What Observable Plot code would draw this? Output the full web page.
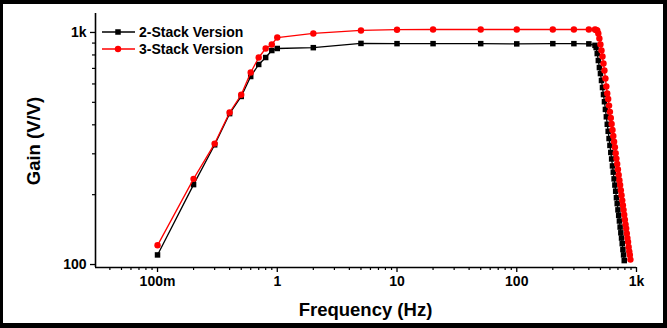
<!DOCTYPE html>
<html><head><meta charset="utf-8">
<script src="https://cdn.jsdelivr.net/npm/d3@7"></script>
<script src="https://cdn.jsdelivr.net/npm/@observablehq/plot@0.6"></script>
<style>
html,body{margin:0;padding:0;background:#fff;}
#wrap{position:relative;width:667px;height:328px;overflow:hidden;font-family:"Liberation Sans",Arial,sans-serif;}
#border{position:absolute;left:0;top:0;width:667px;height:328px;box-sizing:border-box;border-style:solid;border-color:#000;border-width:4px 4px 5px 3px;pointer-events:none;}
#chart{position:absolute;left:0;top:0;}
#chart svg text{font-weight:bold;fill:#000;}
</style></head><body>
<div id="wrap"><div id="chart"></div><div id="border"></div></div>
<script>
// ---- data ----
const seriesNames = ["2-Stack Version", "3-Stack Version"];
const seriesColors = ["#000000", "#ff0000"];

const freq2 = [0.1,0.2,0.3,0.4,0.5,0.6,0.7,0.8,0.9,1,2,5,10,20,50,100,200,300,400,450,
  460,470,480,490,500,510,520,530,540,550,560,570,580,590,600,610,620,630,640,650,
  660,670,680,690,700,710,720,730,740,750,760,770,780,790];
const gain2 = [110,221,328,447,530,646,728,780,836,853,860,897,895,895,895,893,895,895,893,880,
  861,811,757,706,665,621,579,540,503,466,433,402,375,349,326,304,285,266,250,234,
  220,207,194,183,172,163,154,145,137,130,123,116,110,104];

const freq3 = [0.1,0.2,0.3,0.4,0.5,0.6,0.7,0.8,0.9,1,2,5,10,20,50,100,200,300,400,450,
  460,470,480,490,500,510,520,530,540,550,560,570,580,590,600,610,620,630,640,650,
  660,670,680,690,700,710,720,730,740,750,760,770,780,790,800,810,820,830,840,850,
  860,870,880,890];
const gain3 = [121,234,332,452,539,672,780,853,888,951,990,1020,1028,1030,1030,1030,1030,1030,1030,1030,
  1025,1020,990,942,888,836,788,735,686,634,585,546,517,484,455,428,403,380,358,338,
  320,302,286,271,257,243,231,220,209,199,189,180,172,164,156,149,143,136,130,125,
  119,114,110,105];

const xTickValues = [0.1, 1, 10, 100, 1000];
const xTickLabels = ["100m", "1", "10", "100", "1k"];
const yTickValues = [100, 1000];
const yTickLabels = ["100", "1k"];
const xDomain = [0.03034, 1000];
const yDomain = [97.1, 1207];

// minor ticks
const mult = [2,3,4,5,6,7,8,9];
const xMinor = [0.04,0.05,0.06,0.07,0.08,0.09];
[0.1,1,10,100].forEach(d => mult.forEach(m => xMinor.push(d*m)));
const yMinor = mult.map(m => m*100);

const data2 = freq2.map((f,i) => ({f, g: gain2[i]}));
const data3 = freq3.map((f,i) => ({f, g: gain3[i]}));

const xFmt = d => xTickLabels[xTickValues.indexOf(d)];
const yFmt = d => yTickLabels[yTickValues.indexOf(d)];

const chart = Plot.plot({
  width: 667, height: 328,
  marginLeft: 95, marginRight: 31, marginTop: 13, marginBottom: 61,
  style: {fontFamily: "Liberation Sans, Arial, sans-serif", background: "transparent", overflow: "visible"},
  x: {type: "log", domain: xDomain},
  y: {type: "log", domain: yDomain},
  marks: [
    Plot.axisX({ticks: xMinor, tickSize: 3, tickFormat: () => "", label: null, stroke: "#000", strokeWidth: 1.2}),
    Plot.axisX({ticks: xTickValues, tickSize: 5, tickPadding: 4, tickFormat: xFmt, label: null, fontSize: 14, stroke: "#000", strokeWidth: 1.3}),
    Plot.axisY({ticks: yMinor, tickSize: 3, tickFormat: () => "", label: null, stroke: "#000", strokeWidth: 1.2}),
    Plot.axisY({ticks: yTickValues, tickSize: 5, tickPadding: 4, tickFormat: yFmt, label: null, fontSize: 14, stroke: "#000", strokeWidth: 1.3}),
    Plot.ruleY([yDomain[0]], {stroke: "#000", strokeWidth: 1.6}),
    Plot.ruleX([xDomain[0]], {stroke: "#000", strokeWidth: 1.6}),
    Plot.line(data2, {x: "f", y: "g", stroke: seriesColors[0], strokeWidth: 1.3}),
    Plot.dot(data2, {x: "f", y: "g", symbol: "square", r: 3.1, fill: seriesColors[0], stroke: "none"}),
    Plot.line(data3, {x: "f", y: "g", stroke: seriesColors[1], strokeWidth: 1.3}),
    Plot.dot(data3, {x: "f", y: "g", symbol: "circle", r: 3.2, fill: seriesColors[1], stroke: "none"})
  ]
});
document.getElementById("chart").appendChild(chart);

const svg = d3.select(chart);
// axis titles
svg.append("text").attr("x", 365.5).attr("y", 316).attr("text-anchor", "middle")
  .style("font-size", "18.5px").style("font-weight", "bold").text("Frequency (Hz)");
svg.append("text").attr("transform", "translate(40,141) rotate(-90)").attr("text-anchor", "middle")
  .style("font-size", "18.5px").style("font-weight", "bold").text("Gain (V/V)");

// legend
const lg = svg.append("g").attr("text-anchor", "start");
seriesNames.forEach((name, i) => {
  const y = 32 + i * 17;
  lg.append("line").attr("x1", 102).attr("x2", 135).attr("y1", y).attr("y2", y)
    .attr("stroke", seriesColors[i]).attr("stroke-width", 1.3);
  if (i === 0) {
    lg.append("rect").attr("x", 118 - 2.75).attr("y", y - 2.75).attr("width", 5.5).attr("height", 5.5)
      .attr("fill", seriesColors[i]).attr("stroke", "none");
  } else {
    lg.append("circle").attr("cx", 118).attr("cy", y).attr("r", 3.2)
      .attr("fill", seriesColors[i]).attr("stroke", "none");
  }
  lg.append("text").attr("x", 139).attr("y", y).attr("dy", "0.36em").attr("text-anchor", "start")
    .style("text-anchor", "start").style("font-size", "14px").style("font-weight", "bold").text(name);
});
</script>
</body></html>
